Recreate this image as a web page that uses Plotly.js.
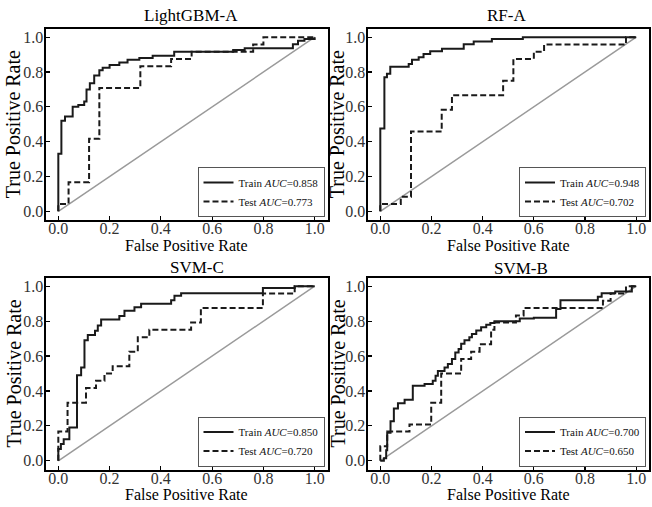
<!DOCTYPE html>
<html><head><meta charset="utf-8">
<script src="https://cdn.plot.ly/plotly-3.0.1.min.js"></script>
<style>body{margin:0;padding:0;background:#fff}#chart{width:652px;height:507px}</style>
</head><body><div id="chart"></div>
<script>
// ---- data ----
const panelTitles = ["LightGBM-A", "RF-A", "SVM-C", "SVM-B"];
const xTitle = "False Positive Rate";
const yTitle = "True Positive Rate";
const trainAUC = ["0.858", "0.948", "0.850", "0.700"];
const testAUC  = ["0.773", "0.702", "0.720", "0.650"];
const tickVals = [0, 0.2, 0.4, 0.6, 0.8, 1.0];
const tickText = ["0.0", "0.2", "0.4", "0.6", "0.8", "1.0"];
const diagX = [0, 1];
const diagY = [0, 1];

const lgbTrainFpr = [0,0,0.012,0.026,0.056,0.078,0.101,0.11,0.123,0.14,0.16,0.173,0.2,0.238,0.27,0.316,0.368,0.452,0.682,0.727,0.915,0.935,0.96,1];
const lgbTrainTpr = [0,0.33,0.52,0.545,0.60,0.61,0.63,0.70,0.735,0.78,0.81,0.825,0.84,0.855,0.87,0.88,0.893,0.917,0.927,0.937,0.96,0.98,0.99,1];
const lgbTestFpr = [0,0,0.04,0.12,0.16,0.32,0.44,0.52,0.76,0.8,1];
const lgbTestTpr = [0,0.042,0.167,0.417,0.708,0.833,0.875,0.917,0.958,1.0,1];

const rfTrainFpr = [0,0,0.016,0.026,0.039,0.111,0.124,0.15,0.169,0.195,0.241,0.326,0.365,0.436,0.557,1];
const rfTrainTpr = [0,0.475,0.77,0.79,0.83,0.846,0.87,0.885,0.904,0.92,0.933,0.96,0.975,0.99,1.0,1];
const rfTestFpr = [0,0,0.08,0.12,0.24,0.28,0.48,0.52,0.6,0.64,0.96,1];
const rfTestTpr = [0,0.042,0.083,0.458,0.583,0.667,0.75,0.875,0.917,0.958,1.0,1];

const svmcTrainFpr = [0,0,0.01,0.021,0.043,0.073,0.089,0.102,0.115,0.143,0.154,0.167,0.238,0.258,0.297,0.323,0.44,0.453,0.479,0.798,0.922,1];
const svmcTrainTpr = [0,0.067,0.096,0.124,0.19,0.49,0.535,0.69,0.72,0.745,0.775,0.81,0.83,0.86,0.88,0.9,0.92,0.946,0.96,0.99,1.0,1];
const svmcTestFpr = [0,0,0.036,0.108,0.147,0.18,0.212,0.277,0.31,0.355,0.518,0.556,0.798,0.922,1];
const svmcTestTpr = [0,0.167,0.333,0.417,0.458,0.5,0.542,0.625,0.708,0.75,0.792,0.875,0.958,1.0,1];

const svmbTrainFpr = [0,0.014,0.023,0.027,0.04,0.053,0.069,0.095,0.127,0.173,0.205,0.216,0.225,0.251,0.264,0.28,0.293,0.306,0.316,0.329,0.348,0.358,0.375,0.394,0.414,0.43,0.446,0.545,0.6,0.687,0.704,0.85,0.865,0.918,0.983,1];
const svmbTrainTpr = [0,0.015,0.06,0.16,0.227,0.30,0.33,0.35,0.43,0.44,0.458,0.487,0.515,0.535,0.554,0.583,0.62,0.64,0.67,0.69,0.708,0.727,0.746,0.765,0.78,0.79,0.80,0.815,0.82,0.87,0.92,0.94,0.96,0.97,1.0,1];
const svmbTestFpr = [0,0,0.027,0.114,0.199,0.238,0.316,0.355,0.388,0.433,0.446,0.53,0.56,0.87,0.9,0.96,1];
const svmbTestTpr = [0,0.083,0.167,0.208,0.333,0.5,0.583,0.625,0.667,0.75,0.792,0.833,0.875,0.917,0.958,1.0,1];

const trainFpr = [lgbTrainFpr, rfTrainFpr, svmcTrainFpr, svmbTrainFpr];
const trainTpr = [lgbTrainTpr, rfTrainTpr, svmcTrainTpr, svmbTrainTpr];
const testFpr = [lgbTestFpr, rfTestFpr, svmcTestFpr, svmbTestFpr];
const testTpr = [lgbTestTpr, rfTestTpr, svmcTestTpr, svmbTestTpr];

// ---- layout geometry ----
const W = 652, H = 507;
const FONT = "Liberation Serif";
const colX = [[45.5, 327.5], [367.5, 649]];
const rowY = [[28.5, 220], [277.5, 469.5]];
const titleCenters = [[191, 15], [506, 15], [197, 267], [521, 268]];
const xTitleY = [245, 494.5];
const yTitleX = [13, 337];

const traces = [];
const layout = {
  width: W, height: H, margin: {l: 0, r: 0, t: 0, b: 0},
  paper_bgcolor: "#fff", plot_bgcolor: "#fff", showlegend: true,
  font: {family: FONT, color: "#000"},
  annotations: []
};

for (let i = 0; i < 4; i++) {
  const col = i % 2, row = Math.floor(i / 2);
  const xa = i === 0 ? "x" : "x" + (i + 1);
  const ya = i === 0 ? "y" : "y" + (i + 1);
  const lg = i === 0 ? "legend" : "legend" + (i + 1);
  traces.push({x: diagX, y: diagY, xaxis: xa, yaxis: ya, mode: "lines", showlegend: false,
    line: {color: "#9a9a9a", width: 1.5}, hoverinfo: "skip"});
  traces.push({x: trainFpr[i], y: trainTpr[i], xaxis: xa, yaxis: ya, mode: "lines", legend: lg,
    name: "Train <i>AUC</i>=" + trainAUC[i], line: {color: "#1a1a1a", width: 2, shape: "hv"}});
  traces.push({x: testFpr[i], y: testTpr[i], xaxis: xa, yaxis: ya, mode: "lines", legend: lg,
    name: "Test <i>AUC</i>=" + testAUC[i], line: {color: "#1a1a1a", width: 2, shape: "hv", dash: "6px,3px"}});

  const axCommon = {
    range: [-0.05, 1.05], tickvals: tickVals, ticktext: tickText,
    ticks: "inside", ticklen: 4, tickwidth: 1.2, tickcolor: "#000",
    showline: true, mirror: true, linecolor: "#000", linewidth: 2,
    showgrid: false, zeroline: false, fixedrange: true,
    tickfont: {family: FONT, size: 16, color: "#333"}
  };
  layout[i === 0 ? "xaxis" : "xaxis" + (i + 1)] = Object.assign({}, axCommon, {
    domain: [colX[col][0] / W, colX[col][1] / W], anchor: ya,
    ticklabelstandoff: -7
  });
  layout[i === 0 ? "yaxis" : "yaxis" + (i + 1)] = Object.assign({}, axCommon, {
    domain: [1 - rowY[row][1] / H, 1 - rowY[row][0] / H], anchor: xa,
    ticklabelstandoff: -3
  });
  layout[lg] = {
    xref: "paper", yref: "paper", xanchor: "right", yanchor: "bottom",
    x: (colX[col][1] - 3) / W, y: 1 - (rowY[row][1] - 3) / H,
    bgcolor: "#fff", bordercolor: "#555", borderwidth: 1,
    font: {family: FONT, size: 11, color: "#111"}, itemwidth: 30, tracegroupgap: 0
  };
  layout.annotations.push({
    text: panelTitles[i], xref: "paper", yref: "paper",
    x: titleCenters[i][0] / W, y: 1 - titleCenters[i][1] / H,
    xanchor: "center", yanchor: "middle", showarrow: false,
    font: {family: FONT, size: 17, color: "#000"}
  });
  layout.annotations.push({
    text: xTitle, xref: "paper", yref: "paper",
    x: (colX[col][0] + colX[col][1]) / 2 / W, y: 1 - xTitleY[row] / H,
    xanchor: "center", yanchor: "middle", showarrow: false,
    font: {family: FONT, size: 16, color: "#000"}
  });
  layout.annotations.push({
    text: yTitle, xref: "paper", yref: "paper", textangle: -90,
    x: yTitleX[col] / W, y: 1 - (rowY[row][0] + rowY[row][1]) / 2 / H,
    xanchor: "center", yanchor: "middle", showarrow: false,
    font: {family: FONT, size: 20, color: "#000"}
  });
}

Plotly.newPlot("chart", traces, layout, {staticPlot: true});
</script>
</body></html>
